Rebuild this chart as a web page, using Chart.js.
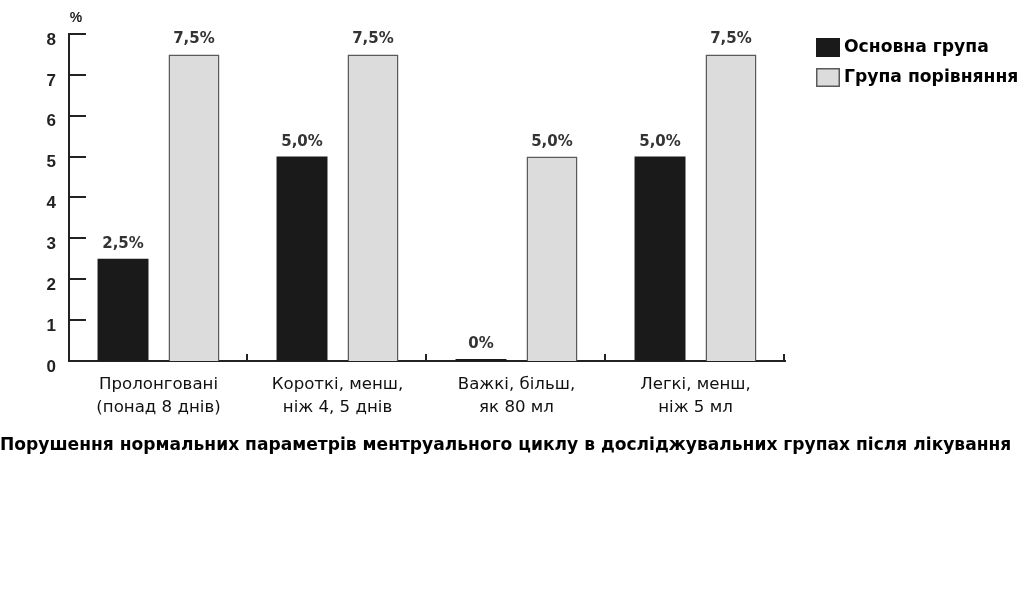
<!DOCTYPE html>
<html>
<head>
<meta charset="utf-8">
<script src="https://cdn.jsdelivr.net/npm/chart.js@4"></script>
<style>
html,body{margin:0;padding:0;background:#fff;}
#wrap{width:1024px;height:600px;position:relative;}
</style>
</head>
<body>
<div id="wrap"><canvas id="c" width="1024" height="600"></canvas></div>
<script>
const categories = [
  ["Пролонговані", "(понад 8 днів)"],
  ["Короткі, менш,", "ніж 4, 5 днів"],
  ["Важкі, більш,", "як 80 мл"],
  ["Легкі, менш,", "ніж 5 мл"]
];
const seriesNames = ["Основна група", "Група порівняння"];
const mainGroup = [2.5, 5.0, 0, 5.0];
const compareGroup = [7.5, 7.5, 5.0, 7.5];
const yTicks = [0, 1, 2, 3, 4, 5, 6, 7, 8];
const chartTitle = "Порушення нормальних параметрів ментруального циклу в досліджувальних групах після лікування";
const unitLabel = "%";

const FONT = 'Arial, "Liberation Sans", sans-serif';
const WIDE = '"DejaVu Sans", Arial, sans-serif';
const DARK = '#1a1a1a';
const LIGHT = '#dcdcdc';
const LIGHT_BORDER = '#5a5a5a';

function fmt(v){
  if (v === 0) return '0%';
  return v.toFixed(1).replace('.', ',') + '%';
}

const customDraw = {
  id: 'customDraw',
  afterDraw(chart){
    const ctx = chart.ctx;
    const ys = chart.scales.y, xs = chart.scales.x;
    const ca = chart.chartArea;
    ctx.save();
    // inward y ticks
    ctx.strokeStyle = '#222';
    ctx.lineWidth = 2;
    ys.ticks.forEach(t => {
      if (t.value === 0) return;
      const y = Math.round(ys.getPixelForValue(t.value));
      ctx.beginPath();
      ctx.moveTo(ca.left, y);
      ctx.lineTo(ca.left + 17, y);
      ctx.stroke();
    });
    // category boundary ticks on x axis
    const n = categories.length;
    const catW = (xs.right - xs.left) / n;
    ctx.lineWidth = 2;
    for (let i = 0; i < n; i++) {
      const x = Math.round(xs.getPixelForValue(i) + catW / 2) - 1;
      ctx.beginPath();
      ctx.moveTo(x, ca.bottom);
      ctx.lineTo(x, ca.bottom - 7);
      ctx.stroke();
    }
    // unit label
    ctx.fillStyle = '#222';
    ctx.font = 'bold 14px ' + FONT;
    ctx.textAlign = 'center';
    ctx.textBaseline = 'middle';
    ctx.fillText(unitLabel, ca.left + 7, ys.getPixelForValue(8) - 16);
    // data labels
    ctx.font = 'bold 15px ' + WIDE;
    ctx.fillStyle = '#333';
    chart.data.datasets.forEach((ds, di) => {
      const meta = chart.getDatasetMeta(di);
      meta.data.forEach((el, i) => {
        const v = ds.data[i];
        const top = Math.min(el.y, el.base - 2);
        ctx.fillText(fmt(v), el.x, top - 15);
      });
    });
    // legend
    const lx = ca.right + 31, ly0 = 38;
    ctx.font = 'bold 17.2px ' + WIDE;
    ctx.textAlign = 'left';
    chart.data.datasets.forEach((ds, di) => {
      const y = ly0 + di * 30;
      ctx.fillStyle = ds.backgroundColor;
      ctx.fillRect(lx, y, 24, 19);
      if (ds.borderWidth) {
        ctx.strokeStyle = ds.borderColor;
        ctx.lineWidth = 1.5;
        ctx.strokeRect(lx + 0.75, y + 0.75, 22.5, 17.5);
      }
      ctx.fillStyle = '#000';
      ctx.fillText(ds.label, lx + 28, y + 10);
    });
    ctx.restore();
  }
};

new Chart(document.getElementById('c'), {
  type: 'bar',
  data: {
    labels: categories,
    datasets: [
      {
        label: seriesNames[0],
        data: mainGroup,
        backgroundColor: DARK,
        borderWidth: 0,
        minBarLength: 2,
        categoryPercentage: 0.793,
        barPercentage: 0.718
      },
      {
        label: seriesNames[1],
        data: compareGroup,
        backgroundColor: LIGHT,
        borderColor: LIGHT_BORDER,
        borderWidth: 1.5,
        categoryPercentage: 0.793,
        barPercentage: 0.718
      }
    ]
  },
  options: {
    responsive: false,
    animation: false,
    devicePixelRatio: 1,
    layout: { padding: { top: 34, right: 0, bottom: 144.5, left: 0 } },
    plugins: {
      legend: { display: false },
      tooltip: { enabled: false },
      title: {
        display: true,
        text: chartTitle,
        position: 'bottom',
        align: 'start',
        color: '#000',
        font: { family: WIDE, size: 17.1, weight: 'bold', lineHeight: 1.2 },
        padding: { top: 0, bottom: 0 }
      }
    },
    scales: {
      x: {
        grid: { display: false, drawTicks: false },
        border: { display: true, color: '#222', width: 2 },
        ticks: { color: '#111', font: { family: WIDE, size: 16.6, lineHeight: 1.4 }, padding: 12, maxRotation: 0, autoSkip: false },
        afterFit(s){ s.height = 74.0; }
      },
      y: {
        min: 0, max: 8,
        afterBuildTicks(s){ s.ticks = yTicks.map(v => ({ value: v })); },
        grid: { display: false, drawTicks: false },
        border: { display: true, color: '#222', width: 2 },
        ticks: { color: '#222', font: { family: FONT, size: 17, weight: 'bold' }, padding: 13, labelOffset: 6 },
        afterFit(s){ s.width = 69; }
      },
      legendSpace: {
        type: 'linear',
        position: 'right',
        display: true,
        grid: { display: false, drawTicks: false },
        border: { display: false },
        ticks: { display: false },
        afterFit(s){ s.width = 239; }
      }
    }
  },
  plugins: [customDraw]
});
</script>
</body>
</html>
